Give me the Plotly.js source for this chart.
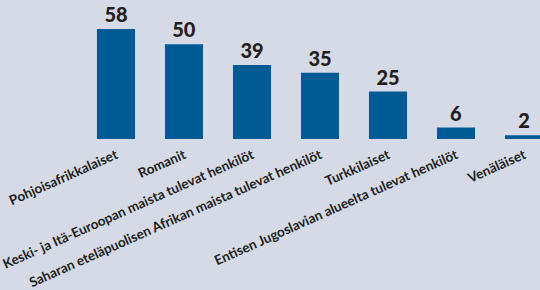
<!DOCTYPE html>
<html>
<head>
<meta charset="utf-8">
<script src="https://cdn.plot.ly/plotly-3.0.1.min.js"></script>
<style>html,body{margin:0;padding:0;background:#d6dae6;}</style>
</head>
<body>
<div id="chart" style="width:540px;height:290px;"></div>
<script>
const categories = [
  "Pohjoisafrikkalaiset",
  "Romanit",
  "Keski- ja Itä-Euroopan maista tulevat henkilöt",
  "Saharan eteläpuolisen Afrikan maista tulevat henkilöt",
  "Turkkilaiset",
  "Entisen Jugoslavian alueelta tulevat henkilöt",
  "Venäläiset"
];
const values = [58, 50, 39, 35, 25, 6, 2];
const valueLabels = values.map(String);

const trace = {
  type: 'bar',
  x: categories.map((c, i) => i),
  y: values,
  text: valueLabels,
  textposition: 'outside',
  cliponaxis: false,
  textfont: {family: 'Lato, sans-serif', size: 20, color: '#231f20', weight: 900},
  marker: {color: '#005a94', line: {width: 0}},
  hoverinfo: 'none'
};

const layout = {
  width: 540, height: 290,
  margin: {l: 82, r: 0, t: 0, b: 151},
  paper_bgcolor: '#d6dae6',
  plot_bgcolor: '#d6dae6',
  bargap: 0.44,
  showlegend: false,
  xaxis: {
    range: [-0.5, 6.235],
    tickmode: 'array',
    tickvals: categories.map((c, i) => i),
    ticktext: categories,
    tickangle: -24,
    ticklabelstandoff: 5,
    tickfont: {family: 'Lato, sans-serif', size: 13.5, color: '#231f20', weight: 'bold'},
    showgrid: false, zeroline: false, showline: false, ticks: '',
    fixedrange: true
  },
  yaxis: {
    range: [0, 73.3],
    visible: false,
    showgrid: false, zeroline: false,
    fixedrange: true
  }
};

Plotly.newPlot('chart', [trace], layout, {displayModeBar: false, staticPlot: true});
</script>
</body>
</html>
